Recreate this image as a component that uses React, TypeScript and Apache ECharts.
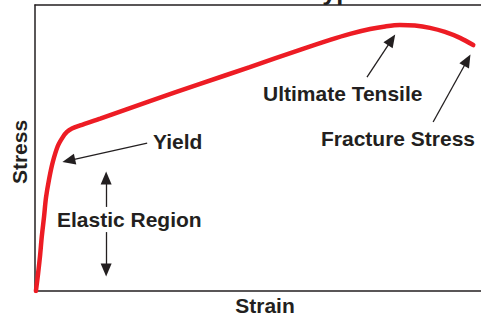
import React, { useEffect, useRef } from "react";
import * as echarts from "echarts";

// Curve (strain %, stress %)
const strain = [0.2, 0.66, 1.1, 1.5, 2.0, 2.4, 3.1, 3.9, 5.0, 6.1, 7.0, 8.1, 9.9, 14.3, 25.2, 36.2, 47.1, 58.1, 64.7, 69.1, 73.5, 76.8, 80.0, 83.3, 86.6, 89.9, 93.2, 96.1];
const stress = [0, 5.9, 12.2, 19.2, 26.2, 32.5, 39.2, 45.1, 50.7, 53.8, 55.6, 56.8, 57.9, 60.3, 66.4, 72.4, 78.3, 84.3, 87.8, 89.9, 91.6, 92.5, 93.0, 92.8, 92.0, 90.6, 88.5, 86.0];

// Annotation arrows: [from, to] in data space
const yieldArrow = [[24.6, 51.7], [7.4, 45.6]];
const elasticUp = [[15.6, 29.4], [15.6, 39.5]];
const elasticDown = [[15.6, 20.6], [15.6, 7.3]];
const ultimateArrow = [[72.8, 74.8], [78.2, 87.8]];
const fractureArrow = [[87.3, 59.1], [94.8, 80.7]];

// visible strain range (the frame runs past the right edge of the picture)
const strainMax = 97.8;

const titleText = "Stress-Strain Curve for a Typical Material";
const xName = "Strain";
const yName = "Stress";
const labels = ["Yield", "Elastic Region", "Ultimate Tensile", "Fracture Stress"];

const INK = "#231f20";
const FONT = "'Liberation Sans', Arial, Helvetica, sans-serif";

export default function App() {
  const ref = useRef<HTMLDivElement>(null);
  useEffect(() => {
    const chart = echarts.init(ref.current!, null, { renderer: "svg" });
    const arrow = (pts: number[][]) => [
      { coord: pts[0], symbol: "none" },
      { coord: pts[1], symbol: "triangle" },
    ];
    const txt = (t: string, x: number, y: number, size = 20, extra: any = {}) => ({
      type: "text",
      x,
      y,
      scaleX: 1.05,
      style: {
        text: t,
        fill: INK,
        font: `bold ${size}px ${FONT}`,
        align: "left",
        verticalAlign: "middle",
      },
      ...extra,
    });
    const frameLine = { show: true, lineStyle: { color: INK, width: 1.5 } };
    const hiddenAxis = {
      type: "value",
      axisTick: { show: false },
      axisLabel: { show: false },
      splitLine: { show: false },
    };
    chart.setOption({
      animation: false,
      grid: { left: 35, top: 5, right: 0, bottom: 27, show: false },
      xAxis: [
        { ...hiddenAxis, min: 0, max: strainMax, position: "bottom", axisLine: frameLine },
        { ...hiddenAxis, min: 0, max: strainMax, position: "top", axisLine: frameLine },
      ],
      yAxis: { ...hiddenAxis, min: 0, max: 100, position: "left", axisLine: frameLine },
      series: [
        {
          type: "line",
          data: strain.map((x, i) => [x, stress[i]]),
          smooth: 0.3,
          showSymbol: false,
          symbol: "none",
          lineStyle: { color: "#ed1c24", width: 4.5, cap: "round" },
          z: 3,
          markLine: {
            silent: true,
            animation: false,
            symbolSize: [11, 13],
            label: { show: false },
            lineStyle: { color: INK, width: 1.3, type: "solid" },
            itemStyle: { color: INK },
            emphasis: { disabled: true },
            data: [
              arrow(yieldArrow),
              arrow(elasticUp),
              arrow(elasticDown),
              arrow(ultimateArrow),
              arrow(fractureArrow),
            ],
          },
        },
      ],
      graphic: [
        txt(titleText, 5, -8.5, 24),
        txt(labels[0], 153, 142),
        txt(labels[1], 57, 220),
        txt(labels[2], 263, 94),
        txt(labels[3], 321, 139),
        {
          type: "text",
          x: 265,
          y: 306,
          scaleX: 1.05,
          style: {
            text: xName,
            fill: INK,
            font: `bold 20px ${FONT}`,
            align: "center",
            verticalAlign: "middle",
          },
        },
        {
          type: "text",
          x: 19.5,
          y: 152,
          rotation: Math.PI / 2,
          scaleX: 1.05,
          style: {
            text: yName,
            fill: INK,
            font: `bold 20px ${FONT}`,
            align: "center",
            verticalAlign: "middle",
          },
        },
      ],
    });
    return () => chart.dispose();
  }, []);
  return <div ref={ref} style={{ width: 481, height: 318, position: "absolute", left: 0, top: 0 }} />;
}
